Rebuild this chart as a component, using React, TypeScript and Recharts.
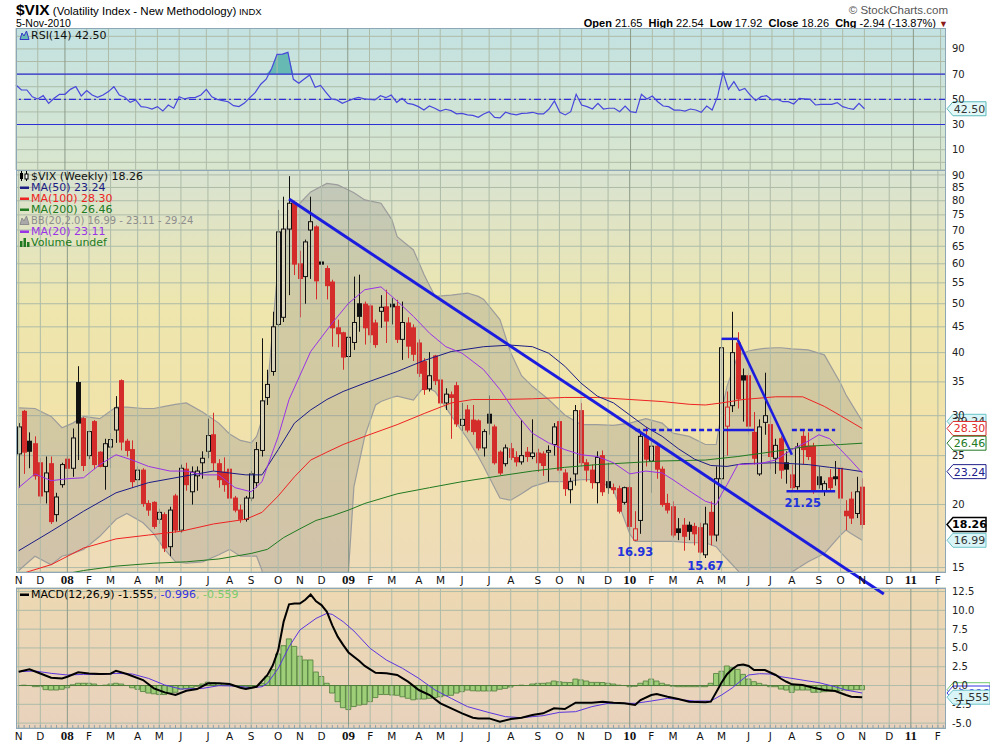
import React from 'react';
import {
  ComposedChart, Bar, Line, Area, XAxis, YAxis, CartesianGrid, ReferenceLine, ReferenceDot,
} from 'recharts';

// weekly bars, dated by the Monday; first bar = week of 5 Nov 2007
const totalWeeks = 172; // empty weeks continue to Feb 2011

// [open, high, low, close]
const candles: number[][] = [
  [25.2, 29.0, 21.6, 28.5], [30.6, 30.8, 23.0, 25.4], [26.7, 27.8, 23.6, 25.5], [26.4, 27.3, 22.4, 22.8],
  [24.2, 24.7, 20.1, 20.8], [21.2, 24.9, 20.1, 23.1], [24.1, 24.9, 18.3, 18.5], [19.1, 21.1, 18.5, 20.7],
  [21.9, 24.2, 21.6, 24.0], [24.6, 24.9, 22.6, 23.6], [23.6, 28.3, 22.7, 27.1], [34.9, 37.6, 24.5, 29.0],
  [29.6, 29.8, 23.3, 23.9], [25.0, 28.0, 24.6, 27.9], [29.2, 29.4, 23.5, 24.0], [25.4, 25.5, 23.7, 23.8],
  [23.8, 27.0, 21.4, 26.4], [26.0, 27.7, 23.6, 26.9], [28.1, 32.8, 26.5, 31.1], [35.2, 35.4, 25.6, 26.6],
  [26.7, 27.0, 24.9, 25.6], [25.7, 26.8, 21.6, 22.2], [22.4, 23.8, 21.6, 23.4], [23.4, 23.6, 19.8, 20.1],
  [20.1, 20.4, 19.0, 19.5], [20.2, 20.3, 17.9, 18.1], [18.7, 19.6, 18.3, 19.3], [19.1, 19.3, 16.1, 16.4],
  [16.5, 19.8, 15.8, 19.5], [20.8, 21.0, 17.6, 17.8], [17.8, 24.0, 17.6, 23.6], [23.5, 24.2, 21.3, 21.9],
  [21.2, 23.8, 20.0, 23.2], [22.8, 23.8, 21.3, 23.3], [24.2, 25.5, 22.5, 24.7], [25.5, 29.6, 24.7, 27.4],
  [27.5, 30.4, 23.3, 24.2], [24.1, 24.6, 21.6, 22.4], [23.2, 24.8, 21.2, 21.9], [23.5, 24.6, 20.1, 20.6],
  [20.6, 20.8, 19.3, 19.5], [19.5, 20.0, 18.4, 18.7], [18.7, 20.8, 18.5, 20.6], [20.6, 23.3, 20.3, 23.0],
  [22.1, 26.6, 21.6, 25.7], [25.6, 42.7, 24.9, 32.1], [32.6, 37.0, 31.5, 34.6], [36.7, 48.2, 36.0, 45.0],
  [45.5, 76.7, 45.0, 69.4], [47.0, 81.5, 46.0, 70.3], [70.3, 89.5, 52.0, 79.1], [79.2, 80.0, 57.0, 59.9],
  [60.0, 63.7, 47.0, 56.1], [56.6, 67.0, 50.0, 66.3], [70.0, 81.5, 56.0, 72.7], [71.0, 71.5, 51.0, 55.5],
  [60.5, 68.4, 55.0, 59.9], [58.7, 59.5, 51.0, 54.3], [55.2, 55.8, 41.1, 44.8], [44.8, 46.5, 41.0, 43.6],
  [43.8, 44.0, 37.0, 39.2], [39.3, 43.5, 37.5, 42.9], [41.9, 56.6, 40.5, 45.9], [50.0, 57.1, 44.0, 47.2],
  [49.9, 50.5, 41.5, 44.8], [49.5, 50.0, 41.8, 43.4], [45.8, 46.5, 40.9, 41.5], [48.3, 52.0, 44.8, 49.2],
  [49.3, 53.3, 41.8, 46.2], [49.9, 51.3, 45.5, 49.3], [49.4, 50.9, 41.8, 42.5], [42.5, 50.5, 38.7, 45.9],
  [45.8, 47.0, 39.0, 41.2], [44.8, 45.5, 38.5, 39.7], [41.8, 42.5, 35.8, 36.4], [38.4, 39.0, 33.0, 33.8],
  [33.9, 40.1, 33.5, 36.0], [39.4, 39.6, 34.5, 35.2], [35.3, 35.8, 31.5, 31.8], [31.8, 34.0, 30.8, 33.1],
  [33.0, 33.5, 27.0, 32.6], [34.4, 35.0, 28.5, 28.9], [28.7, 31.8, 28.0, 29.5], [30.8, 31.5, 27.8, 28.1],
  [29.4, 31.5, 27.5, 27.9], [29.3, 29.5, 25.6, 25.9], [25.9, 28.2, 24.9, 27.9], [30.2, 32.9, 27.5, 29.0],
  [28.5, 28.8, 24.0, 24.2], [25.4, 25.6, 22.9, 23.1], [24.1, 26.3, 23.8, 25.9], [25.8, 26.5, 24.5, 24.8],
  [24.8, 25.5, 23.8, 24.3], [24.3, 29.4, 24.0, 25.0], [25.4, 26.0, 24.3, 24.9], [24.9, 29.5, 24.6, 25.3],
  [25.3, 25.8, 23.2, 24.2], [25.2, 25.5, 22.8, 23.9], [25.4, 26.2, 22.2, 25.6], [26.3, 29.0, 25.0, 28.5],
  [29.2, 29.6, 23.0, 23.4], [23.1, 23.5, 20.8, 21.5], [21.4, 22.6, 20.1, 22.2], [23.0, 31.5, 21.8, 30.7],
  [30.7, 31.8, 23.8, 24.2], [24.2, 24.6, 22.2, 23.4], [23.4, 24.0, 21.5, 22.1], [22.1, 25.5, 20.1, 24.8],
  [25.0, 25.6, 20.8, 21.2], [22.2, 24.2, 21.0, 21.6], [21.6, 22.0, 21.0, 21.4], [21.5, 21.8, 19.2, 19.4],
  [20.2, 21.7, 20.0, 21.6], [21.6, 21.8, 17.8, 18.1], [17.0, 19.4, 16.93, 17.9], [18.6, 28.0, 17.5, 27.3],
  [27.3, 28.5, 23.8, 24.6], [24.4, 29.2, 21.1, 26.1], [26.1, 26.5, 22.5, 23.5], [23.5, 23.8, 19.8, 20.0],
  [20.1, 21.0, 19.2, 19.5], [19.8, 20.3, 17.2, 17.4], [17.9, 18.8, 17.0, 17.6], [18.2, 18.8, 16.2, 17.3],
  [18.2, 18.5, 17.0, 17.7], [18.1, 18.4, 16.6, 17.5], [18.0, 18.4, 16.0, 16.1], [15.9, 19.8, 15.67, 18.3],
  [19.3, 20.3, 16.6, 17.4], [17.4, 23.8, 16.9, 22.5], [22.5, 42.7, 21.5, 40.9], [28.6, 33.5, 25.0, 31.2],
  [31.4, 48.2, 30.5, 40.0], [41.8, 43.9, 31.0, 32.4], [36.0, 37.2, 29.2, 35.3], [36.0, 36.5, 27.5, 28.6],
  [27.8, 30.5, 24.0, 24.7], [23.0, 29.5, 22.8, 28.5], [29.1, 36.5, 27.5, 30.0], [28.8, 30.0, 23.5, 24.9],
  [24.7, 27.0, 23.0, 26.2], [27.0, 27.3, 22.5, 23.4], [24.2, 25.5, 22.0, 23.5], [22.9, 24.0, 21.2, 21.6],
  [21.7, 26.5, 21.4, 26.0], [27.3, 28.0, 24.0, 25.7], [26.1, 27.8, 24.5, 24.9], [26.1, 26.5, 21.0, 21.3],
  [22.7, 23.8, 21.5, 21.9], [21.3, 22.3, 20.8, 22.0], [22.6, 23.5, 21.2, 21.6], [22.7, 24.4, 21.8, 22.5],
  [23.6, 24.0, 19.2, 20.6], [19.4, 20.4, 17.8, 19.0], [20.5, 21.2, 18.3, 18.8], [19.2, 22.7, 18.8, 21.2],
  [21.65, 22.54, 17.92, 18.26],
];

const rsi14 = [
  61.4, 57.4, 57.4, 52.0, 50.3, 52.9, 46.8, 50.8, 54.0, 54.0, 57.9, 60.1, 52.6, 56.9, 53.4, 51.6,
  53.4, 56.1, 60.0, 53.4, 51.6, 47.6, 49.5, 44.2, 43.7, 42.3, 44.2, 40.7, 45.5, 42.9, 52.1, 50.3,
  51.3, 51.6, 53.4, 57.9, 52.0, 50.0, 49.0, 48.1, 45.0, 44.2, 47.0, 51.3, 55.5, 62.0, 66.0, 74.5,
  85.7, 85.9, 87.3, 65.9, 62.7, 66.1, 69.3, 59.5, 61.0, 55.6, 50.3, 49.5, 46.9, 48.7, 50.3, 51.6,
  50.3, 50.0, 49.5, 52.9, 51.3, 53.4, 47.6, 50.8, 46.8, 46.0, 44.2, 41.5, 44.7, 42.9, 40.7, 42.1,
  41.0, 38.5, 38.8, 37.6, 37.2, 35.7, 38.4, 40.2, 35.7, 35.2, 39.7, 38.4, 37.6, 38.9, 39.0, 39.7,
  38.4, 38.4, 42.3, 48.7, 39.7, 37.6, 40.2, 54.0, 45.5, 44.2, 42.3, 46.8, 42.3, 42.9, 42.9, 40.2,
  44.7, 40.2, 39.4, 54.0, 50.3, 52.6, 48.1, 44.7, 44.2, 41.5, 41.5, 40.7, 42.3, 41.5, 39.7, 44.7,
  41.5, 52.1, 71.2, 57.9, 64.0, 56.9, 58.7, 53.4, 49.0, 52.1, 52.9, 49.5, 50.0, 48.1, 48.1, 46.3,
  50.8, 50.3, 50.0, 45.5, 46.0, 46.0, 46.0, 47.4, 44.2, 42.9, 42.1, 46.8, 42.5,
];

const macdHist = [
  0.0, 0.05, 0.0, -0.15, -0.15, -0.55, -0.6, -0.6, -0.5, -0.3, 0.1, 0.3, 0.3, 0.3, 0.2, 0.0,
  0.05, 0.2, 0.3, 0.2, 0.0, -0.3, -0.5, -0.8, -1.0, -1.1, -1.2, -1.2, -1.0, -0.9, -0.5, -0.4,
  -0.3, -0.1, 0.2, 0.45, 0.4, 0.3, 0.25, 0.1, -0.1, -0.2, -0.2, -0.15, 0.0, 0.3, 1.2, 2.1,
  4.2, 5.3, 6.2, 5.2, 3.9, 3.4, 3.4, 1.8, 1.2, 0.3, -1.0, -2.15, -2.95, -3.2, -2.8, -2.6,
  -2.5, -2.15, -1.6, -1.2, -1.2, -1.26, -1.3, -1.5, -1.7, -1.9, -1.8, -1.8, -1.7, -1.6, -1.5, -1.35,
  -1.3, -1.0, -0.82, -0.6, -0.7, -0.73, -0.73, -0.73, -0.73, -0.5, -0.38, -0.2, 0.0, 0.05, 0.0, 0.2,
  0.29, 0.29, 0.35, 0.6, 0.5, 0.42, 0.4, 0.86, 0.75, 0.6, 0.42, 0.42, 0.4, 0.3, 0.2, 0.05,
  0.0, -0.16, -0.1, 0.3, 0.6, 0.86, 0.6, 0.3, 0.1, -0.1, -0.16, -0.16, -0.16, -0.16, -0.16, -0.16,
  0.3, 1.6, 1.9, 2.6, 2.37, 2.15, 1.48, 0.86, 0.51, 0.29, 0.07, -0.16, -0.16, -0.47, -0.6, -0.91,
  -0.6, -0.6, -0.6, -0.9, -0.9, -0.82, -0.75, -0.7, -0.65, -0.6, -0.6, -0.55, -0.56,
];

// [week, value] samples
const macdLine: number[][] = [
  [0, 1.84], [2, 2.15], [4, 1.6], [6, 1.04], [8, 0.95], [9, 1.17], [11, 1.75], [13, 1.6], [15, 1.53],
  [17, 1.57], [18, 1.97], [20, 1.53], [23, 0.73], [25, -0.38], [27, -0.91], [29, -1.26], [31, -0.69],
  [33, -0.47], [35, 0.29], [37, 0.29], [39, 0.2], [41, -0.29], [42, -0.47], [44, -0.16], [46, 1.4],
  [47, 2.7], [48, 4.7], [49, 8.5], [50, 10.8], [51, 10.9], [52, 10.9], [53, 11.4], [54, 12.1], [55, 11.2],
  [56, 10.7], [57, 9.8], [58, 8.0], [59, 6.5], [60, 5.4], [61, 4.4], [63, 3.26], [64, 2.6], [66, 1.7],
  [68, 1.62], [70, 1.4], [72, 0.51], [74, -0.6], [76, -1.26], [78, -2.37], [80, -3.04], [82, -3.7],
  [84, -4.28], [85, -4.37], [87, -4.37], [89, -4.81], [91, -4.45], [93, -4.28], [95, -3.92], [97, -3.7],
  [99, -3.04], [101, -3.13], [103, -2.28], [106, -2.28], [108, -2.15], [110, -2.28], [112, -2.37],
  [114, -2.59], [115, -1.93], [117, -1.26], [118, -1.13], [120, -1.49], [122, -1.8], [124, -2.15],
  [127, -2.24], [128, -2.15], [129, -0.9], [130, 0.4], [131, 1.5], [132, 2.2], [133, 2.7], [134, 2.8],
  [135, 2.6], [136, 2.06], [138, 2.06], [140, 1.4], [141, 0.9], [142, 0.5], [143, 0.16], [145, 0.07],
  [147, -0.29], [149, -0.6], [151, -0.73], [152, -1.0], [153, -1.26], [154, -1.49], [156, -1.555],
];
const macdSignal: number[][] = [
  [0, 1.84], [3, 1.93], [6, 1.62], [9, 1.4], [12, 1.48], [15, 1.48], [18, 1.62], [21, 1.53], [24, 0.95],
  [27, 0.07], [30, -0.47], [34, -0.38], [37, -0.02], [40, -0.07], [43, -0.29], [45, -0.16], [46, 0.29],
  [48, 2.28], [50, 5.16], [52, 7.38], [55, 8.93], [57, 9.6], [58, 9.46], [60, 8.49], [62, 7.25], [65, 4.94],
  [68, 3.39], [71, 2.28], [74, 0.95], [77, -0.6], [80, -1.71], [83, -2.81], [87, -3.6], [90, -4.14],
  [93, -4.28], [97, -4.01], [100, -3.57], [103, -3.48], [106, -2.81], [109, -2.37], [114, -2.37],
  [117, -2.06], [120, -1.71], [123, -1.93], [125, -2.06], [128, -2.06], [130, -1.26], [132, -0.3],
  [134, 0.9], [135, 1.4], [137, 1.57], [139, 1.53], [141, 1.17], [143, 0.95], [146, 0.6], [148, 0.38],
  [151, -0.16], [153, -0.6], [156, -0.996],
];

const ma20: number[][] = [
  [0, 21.6], [3, 23.0], [6, 22.3], [9, 22.5], [12, 22.6], [15, 24.0], [18, 25.1], [21, 24.5], [24, 23.8],
  [28, 23.3], [31, 23.3], [34, 22.9], [37, 22.9], [40, 21.6], [43, 21.2], [45, 22.2], [46, 23.8], [48, 27.3],
  [50, 32.3], [54, 40.2], [58, 45.8], [61, 50.1], [64, 53.3], [67, 54.0], [70, 50.6], [73, 47.2], [76, 43.7],
  [79, 41.1], [82, 39.9], [86, 37.0], [89, 33.8], [92, 30.3], [95, 27.7], [98, 26.5], [101, 25.7],
  [104, 25.1], [107, 24.9], [110, 24.2], [113, 23.0], [116, 23.3], [119, 23.1], [121, 22.4], [124, 21.3],
  [127, 20.3], [129, 20.0], [130, 21.0], [131, 21.9], [133, 24.0], [137, 24.1], [140, 24.5], [143, 25.7],
  [146, 26.7], [148, 27.5], [150, 27.0], [152, 25.7], [154, 24.4], [156, 23.11],
];
const ma50: number[][] = [
  [0, 16.2], [6, 17.7], [12, 19.4], [18, 21.1], [24, 22.1], [30, 22.7], [36, 23.3], [42, 22.9], [45, 22.9],
  [48, 25.7], [51, 29.0], [54, 30.8], [57, 32.3], [60, 33.5], [64, 34.8], [70, 36.7], [75, 38.6], [80, 40.2],
  [86, 41.1], [91, 41.4], [95, 41.1], [98, 39.9], [101, 37.6], [104, 34.8], [107, 32.8], [110, 31.8],
  [113, 30.1], [116, 28.5], [119, 27.3], [122, 25.8], [125, 24.6], [128, 23.9], [131, 23.8], [134, 24.1],
  [140, 24.2], [146, 24.0], [150, 23.7], [153, 23.5], [156, 23.24],
];
const ma100: number[][] = [
  [0, 14.5], [2, 14.75], [6, 15.2], [12, 16.4], [18, 17.1], [24, 17.4], [30, 17.7], [36, 18.3], [42, 18.7],
  [45, 19.3], [48, 20.8], [51, 22.7], [54, 24.5], [57, 25.4], [60, 26.3], [64, 27.3], [70, 28.8], [75, 30.3],
  [80, 31.8], [84, 32.3], [89, 32.3], [95, 32.4], [101, 32.6], [107, 32.6], [113, 32.3], [119, 32.0],
  [124, 31.6], [127, 31.5], [130, 31.8], [134, 32.3], [140, 32.7], [145, 32.7], [149, 31.3], [152, 30.0],
  [156, 28.3],
];
const ma200: number[][] = [
  [6, 14.4], [12, 14.8], [18, 15.1], [25, 15.3], [31, 15.4], [37, 15.6], [43, 16.0], [46, 16.3], [49, 17.2],
  [52, 17.9], [55, 18.6], [58, 19.0], [61, 19.5], [64, 20.1], [70, 21.0], [76, 21.6], [82, 22.2], [89, 22.8],
  [95, 23.3], [101, 23.7], [107, 24.0], [113, 24.2], [119, 24.4], [127, 24.5], [133, 24.9], [140, 25.5],
  [146, 26.1], [152, 26.3], [156, 26.46],
];

const bbWeeks = [
  0, 3, 6, 8, 10, 12, 15, 18, 20, 23, 25, 27, 29, 31, 34, 37, 39, 41, 43, 44, 45, 46, 47, 48, 50, 52, 54,
  57, 59, 60, 61, 62, 64, 66, 67, 69, 70, 73, 75, 77, 80, 83, 85, 86, 89, 91, 93, 95, 98, 101, 104, 107,
  110, 113, 114, 116, 119, 121, 124, 127, 129, 130, 131, 133, 135, 136, 138, 140, 141, 143, 146, 149,
  152, 153, 154, 156,
];
const bbUpper = [
  31.1, 31.0, 29.9, 28.4, 29.0, 29.9, 29.6, 31.2, 31.2, 31.0, 31.0, 31.3, 31.6, 31.8, 30.5, 29.0, 27.6,
  26.8, 26.5, 27.3, 29.5, 33.8, 45.0, 60.2, 73.4, 79.1, 83.3, 86.6, 86.0, 85.0, 84.0, 83.0, 80.3, 79.5,
  79.1, 73.4, 67.9, 63.9, 57.0, 51.7, 52.0, 52.5, 51.7, 51.0, 46.5, 40.0, 36.0, 34.3, 32.3, 30.1, 28.8,
  28.8, 28.7, 29.0, 29.2, 29.6, 29.0, 27.7, 27.3, 26.3, 26.3, 30.5, 34.3, 39.5, 40.3, 40.5, 40.8, 40.9,
  40.9, 40.7, 40.5, 39.6, 34.8, 33.0, 31.7, 29.24,
];
const bbLower = [
  14.8, 15.8, 15.2, 15.8, 16.0, 16.3, 17.3, 18.7, 19.2, 18.4, 17.5, 16.3, 15.4, 15.3, 15.4, 15.9, 16.3,
  15.8, 15.8, 15.8, 14.8, 12.0, 10.0, 8.0, 5.0, 4.0, 4.0, 6.0, 10.0, 13.0, 14.8, 21.7, 27.3, 31.5, 32.0,
  32.6, 32.8, 32.2, 34.3, 33.5, 30.0, 27.0, 24.9, 23.8, 20.6, 20.4, 21.0, 21.7, 22.2, 22.2, 22.4, 22.4,
  21.4, 17.5, 16.9, 16.9, 16.9, 16.9, 16.8, 16.8, 16.5, 16.0, 15.6, 14.8, 13.8, 13.3, 12.8, 13.0, 13.5,
  14.7, 15.4, 16.0, 17.4, 17.8, 17.5, 16.99,
];

// hand-drawn annotations: [week, price] -> [week, price]
const trendLines: { a: number[]; b: number[]; dash?: boolean; w: number }[] = [
  { a: [50, 80.6], b: [160, 13.3], w: 3 },
  { a: [133, 42.4], b: [143, 25.1], w: 2.5 },
  { a: [130, 42.6], b: [133, 42.6], w: 2.5 },
  { a: [114, 28.1], b: [131, 28.1], dash: true, w: 2.5 },
  { a: [131, 28.1], b: [136, 28.1], w: 2.5 },
  { a: [143, 28.1], b: [151, 28.1], dash: true, w: 2.5 },
  { a: [142, 21.25], b: [151, 21.25], w: 2.5 },
];
const priceNotes: { week: number; price: number; text: string }[] = [
  { week: 114, price: 16.07, text: '16.93' },
  { week: 127, price: 15.08, text: '15.67' },
  { week: 145, price: 20.1, text: '21.25' },
];

const priceTicks = [15, 20, 25, 30, 35, 40, 45, 50, 55, 60, 65, 70, 75, 80, 85, 90];
const rsiTicks = [0, 10, 20, 30, 40, 50, 60, 70, 80, 90, 100];
const macdTicks = [-5, -2.5, 0, 2.5, 5, 7.5, 10, 12.5];

const sans = '"DejaVu Sans", Verdana, sans-serif';
const arial = '"Liberation Sans", Arial, sans-serif';
const serif = '"Liberation Serif", "Times New Roman", serif';
const monthLetters = 'JFMAMJJASOND';

const rows: any[] = Array.from({ length: totalWeeks }, (_, i) => {
  const d = new Date(2007, 10, 5 + 7 * i);
  const r: any = { i, m: d.getMonth(), yr: d.getFullYear() };
  const c = candles[i];
  if (c) {
    r.o = c[0]; r.h = c[1]; r.l = c[2]; r.c = c[3];
    r.prev = i > 0 ? candles[i - 1][3] : c[0];
    r.range = [c[2], c[1]];
    r.rsi = rsi14[i];
    r.hist = macdHist[i];
  }
  return r;
});
const put = (pts: number[][], key: string) => pts.forEach(([k, v]) => { rows[k][key] = v; });
put(ma20, 'ma20'); put(ma50, 'ma50'); put(ma100, 'ma100'); put(ma200, 'ma200');
put(macdLine, 'macd'); put(macdSignal, 'signal');
bbWeeks.forEach((k, j) => { rows[k].bb = [bbLower[j], bbUpper[j]]; });

const monthStarts = rows.filter((r, i) => i === 0 || r.m !== rows[i - 1].m).map((r) => r.i);

const W = 990;
const margin = { top: 0, right: 0, bottom: 0, left: 16 };
const gridStroke = '#adbba8';

const monthLines = () =>
  monthStarts.map((i) => (
    <ReferenceLine key={'g' + i} x={i} stroke={rows[i].m === 0 ? '#8c9b89' : gridStroke} strokeWidth={1} />
  ));

const Candle = (props: any) => {
  const { x, y, width, height, payload } = props;
  if (!payload || payload.o == null) return null;
  const { o, h, l, c, prev } = payload;
  const yTop = Math.min(y, y + height);
  const yBot = Math.max(y, y + height);
  const lh = Math.log(h);
  const span = lh - Math.log(l) || 1;
  const py = (v: number) => yTop + ((yBot - yTop) * (lh - Math.log(v))) / span;
  const cx = Math.round(x + width / 2) + 0.5;
  const col = c >= prev ? '#111' : '#d42b2b';
  const top = py(Math.max(o, c));
  const bot = py(Math.min(o, c));
  const hollow = c > o;
  return (
    <g>
      <line x1={cx} x2={cx} y1={yTop} y2={yBot} stroke={col} strokeWidth={1} />
      {hollow ? (
        <rect x={cx - 2} y={top} width={4} height={Math.max(bot - top, 1)} fill="#d8d2b8" stroke={col} strokeWidth={1} />
      ) : (
        <rect x={cx - 2.5} y={top - 0.5} width={5} height={Math.max(bot - top + 1, 1.5)} fill={col} />
      )}
    </g>
  );
};

const XTick = (p: any) => {
  const r = rows[p.payload.value];
  if (!r) return null;
  const year = r.m === 0;
  return (
    <text x={p.x} y={p.y + 12} textAnchor="middle" fill="#111"
      fontSize={year ? 13 : 10.5} fontWeight={year ? 700 : 400} fontFamily={year ? serif : sans}>
      {year ? String(r.yr).slice(2) : monthLetters[r.m]}
    </text>
  );
};

const Tag = (props: any) => {
  const { viewBox, text, fill, stroke, color, bold, w = 33 } = props;
  if (!viewBox) return null;
  const x0 = viewBox.x + viewBox.width + 1;
  const y = viewBox.y;
  return (
    <g>
      <path d={`M${x0},${y} L${x0 + 6},${y - 7} L${x0 + 6 + w},${y - 7} L${x0 + 6 + w},${y + 7} L${x0 + 6},${y + 7} Z`}
        fill={fill} stroke={stroke} strokeWidth={bold ? 1.5 : 1} />
      <text x={x0 + 6 + w / 2} y={y + 4} textAnchor="middle" fontSize={11} fontFamily={sans}
        fontWeight={bold ? 700 : 400} fill={color}>{text}</text>
    </g>
  );
};

const yTickStyle = { fontSize: 10, fill: '#222', fontFamily: sans };

const Dash = ({ color }: { color: string }) => (
  <svg width="11" height="9" style={{ verticalAlign: '-1px', marginRight: 1 }}><rect x="1" y="3.5" width="9" height="2.5" fill={color} /></svg>
);
const Mount = ({ fill, stroke }: { fill: string; stroke: string }) => (
  <svg width="11" height="10" style={{ verticalAlign: '-1px', marginRight: 1 }}>
    <path d="M1,9.5 L3,3 L5,6 L7.5,1 L10,9.5 Z" fill={fill} stroke={stroke} strokeWidth="1" />
  </svg>
);
const Bars = ({ color }: { color: string }) => (
  <svg width="11" height="10" style={{ verticalAlign: '-1px', marginRight: 1 }}>
    <rect x="1" y="4" width="2.5" height="6" fill={color} /><rect x="4.5" y="1" width="2.5" height="9" fill={color} />
    <rect x="8" y="5" width="2.5" height="5" fill={color} />
  </svg>
);
const CandleIcon = () => (
  <svg width="11" height="10" style={{ verticalAlign: '-1px', marginRight: 1 }}>
    <line x1="2.5" x2="2.5" y1="0" y2="10" stroke="#000" /><rect x="1" y="2" width="3" height="6" fill="#000" />
    <line x1="7.5" x2="7.5" y1="0" y2="10" stroke="#000" /><rect x="6" y="3" width="3" height="5" fill="#fff" stroke="#000" />
  </svg>
);

const panel = (top: number, height: number): React.CSSProperties => ({
  position: 'absolute', left: 16, top, width: 930, height, border: '1px solid #8ea7b6',
  boxSizing: 'border-box', pointerEvents: 'none', zIndex: 5,
});

export default function App() {
  return (
    <div style={{ position: 'absolute', left: 0, top: 0, width: W, height: 744, background: '#fff', overflow: 'hidden', fontFamily: sans }}>
      {/* header */}
      <div style={{ position: 'absolute', left: 16, top: 1, whiteSpace: 'nowrap', fontFamily: arial, color: '#000', lineHeight: '18px' }}>
        <span style={{ fontSize: 15.5, fontWeight: 700 }}>$VIX</span>
        <span style={{ fontSize: 11.5 }}> (Volatility Index - New Methodology)</span>
        <span style={{ fontSize: 9.5 }}> INDX</span>
      </div>
      <div style={{ position: 'absolute', left: 16, top: 16, fontSize: 10.5, fontFamily: arial, lineHeight: '14px' }}>5-Nov-2010</div>
      <div style={{ position: 'absolute', right: 42, top: 3, fontSize: 11.5, fontFamily: arial, color: '#555', lineHeight: '14px' }}>© StockCharts.com</div>
      <div style={{ position: 'absolute', right: 42, top: 16, fontSize: 11, fontFamily: arial, lineHeight: '14px', whiteSpace: 'nowrap' }}>
        <b>Open</b> 21.65 &nbsp;<b>High</b> 22.54 &nbsp;<b>Low</b> 17.92 &nbsp;<b>Close</b> 18.26 &nbsp;<b>Chg</b> -2.94 (-13.87%) <span style={{ color: '#8b1a1a', fontSize: 9 }}>▼</span>
      </div>

      {/* RSI panel */}
      <div style={{ position: 'absolute', left: 0, top: 28, zIndex: 1 }}>
        <ComposedChart width={W} height={142} data={rows} margin={margin}>
          <defs>
            <linearGradient id="rsiBg" x1="0" y1="0" x2="0" y2="1">
              <stop offset="0%" stopColor="#c3e2e2" />
              <stop offset="100%" stopColor="#d9e6ce" />
            </linearGradient>
          </defs>
          <CartesianGrid fill="url(#rsiBg)" stroke={gridStroke} vertical={false} />
          <XAxis dataKey="i" type="category" ticks={monthStarts} interval={0} height={0} tick={false} axisLine={false} tickLine={false} />
          <YAxis orientation="right" width={44} domain={[-6.1, 106.6]} ticks={rsiTicks} interval={0} allowDataOverflow
            tickSize={0} tickMargin={6} axisLine={false} tickLine={false}
            tick={(p: any) => (p.payload.value % 20 === 10 ? (
              <text x={p.x} y={p.y + 3.5} fontSize={10} fill="#222" fontFamily={sans}>{p.payload.value}</text>
            ) : <g />)} />
          {monthLines()}
          <Area dataKey={(r: any) => (r.rsi != null ? [70, Math.max(70, r.rsi)] : null)} stroke="none" fill="#66bab3" fillOpacity={1} isAnimationActive={false} />
          <ReferenceLine y={70} stroke="#2f2fd6" strokeWidth={1.2} />
          <ReferenceLine y={30} stroke="#2f2fd6" strokeWidth={1.2} />
          <ReferenceLine y={50} stroke="#2f2fd6" strokeWidth={1.2} strokeDasharray="7 3 2 3" />
          <Line dataKey="rsi" stroke="#4747dc" strokeWidth={1.2} dot={false} isAnimationActive={false} />
          <ReferenceLine y={42.5} stroke="none" label={<Tag text="42.50" fill="#e2f8f8" stroke="#5cb9bb" color="#333" />} />
        </ComposedChart>
      </div>
      <div style={{ position: 'absolute', left: 19, top: 30, fontSize: 11, lineHeight: '12px', zIndex: 6, color: '#111' }}>
        <Mount fill="#66bab3" stroke="#3535c8" />RSI(14) 42.50
      </div>

      {/* price panel */}
      <div style={{ position: 'absolute', left: 0, top: 170, zIndex: 3 }}>
        <ComposedChart width={W} height={432} data={rows} margin={{ ...margin, bottom: 14 }} barCategoryGap={0}>
          <defs>
            <linearGradient id="mainBg" x1="0" y1="0" x2="0" y2="1">
              <stop offset="0%" stopColor="#d8e3d2" />
              <stop offset="35%" stopColor="#eee6ad" />
              <stop offset="60%" stopColor="#f1e3aa" />
              <stop offset="100%" stopColor="#eedbb9" />
            </linearGradient>
          </defs>
          <CartesianGrid fill="url(#mainBg)" stroke={gridStroke} vertical={false} />
          <XAxis dataKey="i" type="category" ticks={monthStarts} interval={0} height={16} tick={<XTick />}
            axisLine={false} tickLine={false} tickSize={0} tickMargin={0} />
          <YAxis orientation="right" width={44} scale="log" domain={[14.7, 92.05]} ticks={priceTicks} interval={0}
            allowDataOverflow tickSize={0} tickMargin={6} axisLine={false} tickLine={false} tick={yTickStyle} />
          {monthLines()}
          <Area dataKey="bb" connectNulls stroke="#9c9c9c" strokeWidth={1.2} fill="#8a8a8a" fillOpacity={0.3} dot={false} isAnimationActive={false} />
          <Line dataKey="ma200" connectNulls stroke="#217a21" strokeWidth={1} dot={false} isAnimationActive={false} />
          <Line dataKey="ma100" connectNulls stroke="#ee2222" strokeWidth={1} dot={false} isAnimationActive={false} />
          <Line dataKey="ma50" connectNulls stroke="#1c1c86" strokeWidth={1} dot={false} isAnimationActive={false} />
          <Line dataKey="ma20" connectNulls stroke="#9a33e6" strokeWidth={1} dot={false} isAnimationActive={false} />
          <Bar dataKey="range" shape={<Candle />} isAnimationActive={false} />
          {trendLines.map((t, j) => (
            <ReferenceLine key={'t' + j} ifOverflow="visible" stroke="#1c1cdf" strokeWidth={t.w}
              strokeDasharray={t.dash ? '5 3' : undefined}
              segment={[{ x: t.a[0], y: t.a[1] }, { x: t.b[0], y: t.b[1] }]} />
          ))}
          {priceNotes.map((n) => (
            <ReferenceDot key={n.text} x={n.week} y={n.price} ifOverflow="visible"
              shape={(p: any) => (
                <text x={p.cx} y={p.cy + 4} textAnchor="middle" fontSize={11.5} fontWeight={700} fill="#2233dd" fontFamily={sans}>{n.text}</text>
              )} />
          ))}
          <ReferenceLine y={29.24} stroke="none" label={<Tag text="29.24" fill="#d9f5f7" stroke="#6cc3c8" color="#333" />} />
          <ReferenceLine y={28.3} stroke="none" label={<Tag text="28.30" fill="#fff" stroke="#e02a2a" color="#e02a2a" />} />
          <ReferenceLine y={26.46} stroke="none" label={<Tag text="26.46" fill="#fff" stroke="#237a23" color="#237a23" />} />
          <ReferenceLine y={23.24} stroke="none" label={<Tag text="23.24" fill="#fff" stroke="#20208a" color="#20208a" />} />
          <ReferenceLine y={18.26} stroke="none" label={<Tag text="18.26" fill="#fff" stroke="#000" color="#000" bold />} />
          <ReferenceLine y={16.99} stroke="none" label={<Tag text="16.99" fill="#d9f5f7" stroke="#6cc3c8" color="#333" />} />
        </ComposedChart>
      </div>
      <div style={{ position: 'absolute', left: 19, top: 171, fontSize: 11, lineHeight: '11px', zIndex: 6, whiteSpace: 'nowrap' }}>
        <div style={{ color: '#111' }}><CandleIcon />$VIX (Weekly) 18.26</div>
        <div style={{ color: '#1c1c86' }}><Dash color="#1c1c86" />MA(50) 23.24</div>
        <div style={{ color: '#ee2222' }}><Dash color="#ee2222" />MA(100) 28.30</div>
        <div style={{ color: '#217a21' }}><Dash color="#217a21" />MA(200) 26.46</div>
        <div style={{ color: '#8e8e8e', fontSize: 10 }}><Mount fill="#a9a9a9" stroke="#8e8e8e" />BB(20,2.0) 16.99 - 23.11 - 29.24</div>
        <div style={{ color: '#9a33e6' }}><Dash color="#9a33e6" />MA(20) 23.11</div>
        <div style={{ color: '#217a21' }}><Bars color="#217a21" />Volume undef</div>
      </div>

      {/* MACD panel */}
      <div style={{ position: 'absolute', left: 0, top: 580, zIndex: 2 }}>
        <ComposedChart width={W} height={164} data={rows} margin={{ ...margin, top: 8 }} barCategoryGap={0}>
          <defs>
            <linearGradient id="macdBg" x1="0" y1="0" x2="0" y2="1">
              <stop offset="0%" stopColor="#edd8b2" />
              <stop offset="100%" stopColor="#e8d2bd" />
            </linearGradient>
          </defs>
          <CartesianGrid fill="url(#macdBg)" stroke={gridStroke} vertical={false} />
          <XAxis dataKey="i" type="category" ticks={monthStarts} interval={0} height={16} tick={<XTick />}
            axisLine={false} tickLine={false} tickSize={0} tickMargin={0} />
          <YAxis orientation="right" width={44} domain={[-5.65, 12.97]} ticks={macdTicks} interval={0} allowDataOverflow
            tickSize={0} tickMargin={6} axisLine={false} tickLine={false} tick={yTickStyle}
            tickFormatter={(v: number) => v.toFixed(1)} />
          {monthLines()}
          <ReferenceLine y={-5.45} stroke="#8ea1aa" strokeWidth={3} strokeDasharray="1 4.407" strokeDashoffset={-2.2} />
          <Bar dataKey="hist" fill="#9fce78" stroke="#4f7d3c" strokeWidth={0.8} isAnimationActive={false} />
          <ReferenceLine segment={[{ x: 0, y: 0 }, { x: 156, y: 0 }]} stroke="#4f7d3c" />
          <Line dataKey="signal" connectNulls stroke="#5a35e0" strokeWidth={1} dot={false} isAnimationActive={false} />
          <Line dataKey="macd" connectNulls stroke="#000" strokeWidth={2} dot={false} isAnimationActive={false} />
          <ReferenceLine y={-0.559} stroke="none" label={<Tag text="-0.559" fill="#fff" stroke="#6cc86c" color="#3a8a3a" w={37} />} />
          <ReferenceLine y={-0.996} stroke="none" label={<Tag text="-0.996" fill="#fff" stroke="#3434e0" color="#3434e0" w={37} />} />
          <ReferenceLine y={-1.555} stroke="none" label={<Tag text="-1.555" fill="#d9f5f7" stroke="#6cc3c8" color="#333" w={37} />} />
        </ComposedChart>
      </div>
      <div style={{ position: 'absolute', left: 19, top: 588, fontSize: 11, lineHeight: '13px', zIndex: 6, whiteSpace: 'nowrap' }}>
        <Dash color="#000" />MACD(12,26,9) -1.555<span style={{ color: '#3434e0' }}>, -0.996</span><span style={{ color: '#7ccc6c' }}>, -0.559</span>
      </div>

      <div style={panel(28, 143)} />
      <div style={panel(170, 403)} />
      <div style={panel(588, 141)} />
    </div>
  );
}
